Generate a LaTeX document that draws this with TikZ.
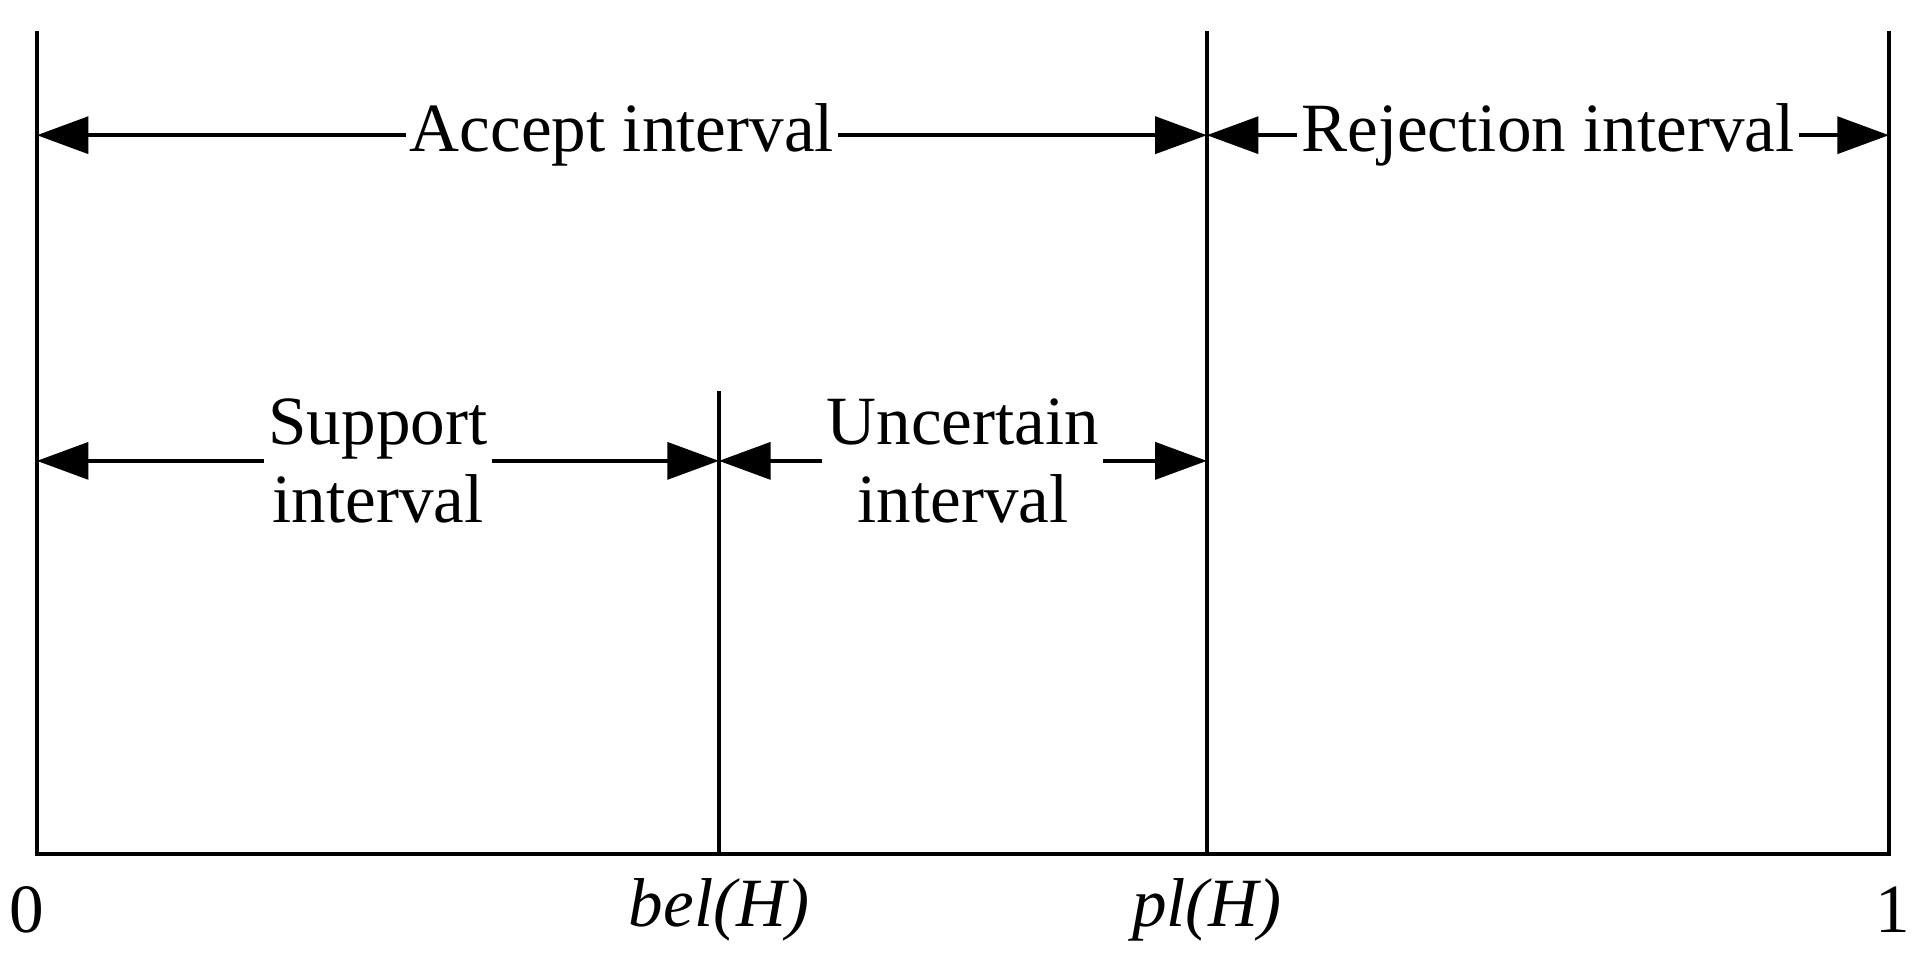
\documentclass[tikz,border=0pt]{standalone}
\usepackage{fontspec}
\setmainfont{Liberation Serif}
\usetikzlibrary{arrows.meta}
\begin{document}
\begin{tikzpicture}[
  vline/.style={line width=0.9pt},
  dim/.style={line width=0.9pt,{Triangle[length=0.42cm,width=0.3cm]}-{Triangle[length=0.42cm,width=0.3cm]}},
  lab/.style={fill=white,inner sep=1pt,font=\fontsize{16}{18}\selectfont,align=center},
  tick/.style={font=\fontsize{16}{18}\selectfont\itshape}]
\useasboundingbox (0,0) rectangle (15.68,7.84);
\coordinate (z0) at (0.30,0.89); \coordinate (z0t) at (0.30,7.59);
\coordinate (b0) at (5.85,0.89); \coordinate (b0t) at (5.85,4.66);
\coordinate (p0) at (9.82,0.89); \coordinate (p0t) at (9.82,7.59);
\coordinate (o0) at (15.37,0.89); \coordinate (o0t) at (15.37,7.59);
\draw[vline] (z0t) -- (z0) -- (o0) -- (o0t);
\draw[vline] (b0) -- (b0t);
\draw[vline] (p0) -- (p0t);
\draw[dim] (0.30,6.74) -- node[lab]{Accept interval} (9.82,6.74);
\draw[dim] (9.82,6.74) -- node[lab]{Rejection interval} (15.37,6.74);
\draw[dim] (0.30,4.09) -- node[lab]{Support\\interval} (5.85,4.09);
\draw[dim] (5.85,4.09) -- node[lab]{Uncertain\\interval} (9.82,4.09);
\node[font=\fontsize{16}{18}\selectfont] (l0) at (0.22,0.44) {0};
\node[tick] (lb) at (5.85,0.44) {bel(H)};
\node[tick] (lp) at (9.82,0.44) {pl(H)};
\node[font=\fontsize{16}{18}\selectfont] (l1) at (15.40,0.44) {1};
\end{tikzpicture}
\end{document}
